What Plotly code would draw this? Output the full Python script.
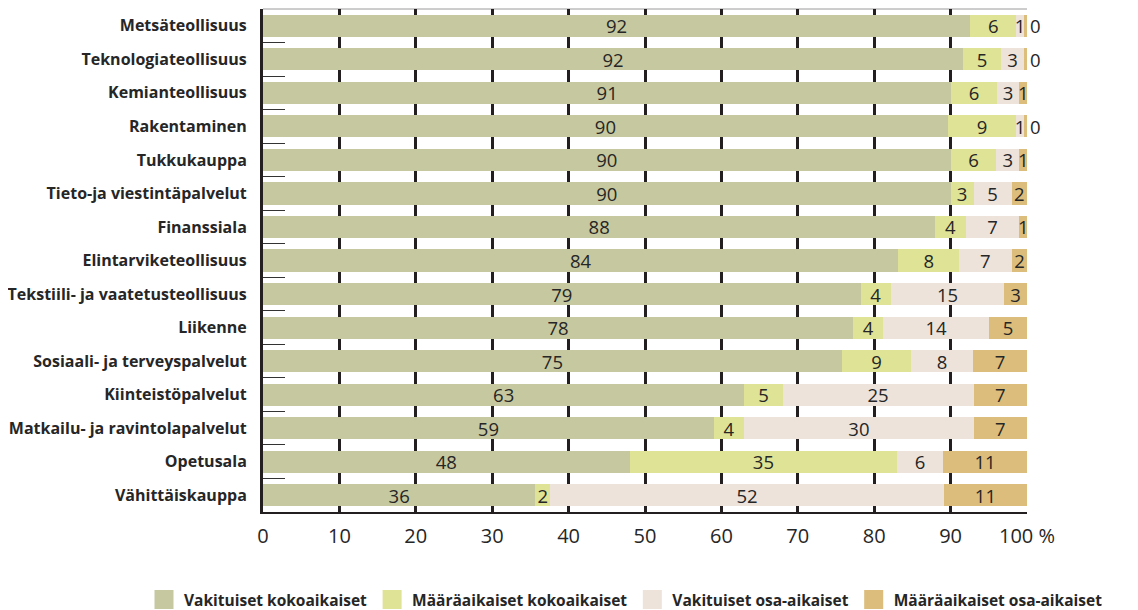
import plotly.graph_objects as go

categories = [
    "Metsäteollisuus", "Teknologiateollisuus", "Kemianteollisuus", "Rakentaminen",
    "Tukkukauppa", "Tieto-ja viestintäpalvelut", "Finanssiala", "Elintarviketeollisuus",
    "Tekstiili- ja vaatetusteollisuus", "Liikenne", "Sosiaali- ja terveyspalvelut",
    "Kiinteistöpalvelut", "Matkailu- ja ravintolapalvelut", "Opetusala", "Vähittäiskauppa",
]
series_names = ["Vakituiset kokoaikaiset", "Määräaikaiset kokoaikaiset",
                "Vakituiset osa-aikaiset", "Määräaikaiset osa-aikaiset"]
vakituiset_kokoaikaiset = [92, 92, 91, 90, 90, 90, 88, 84, 79, 78, 75, 63, 59, 48, 36]
maaraaikaiset_kokoaikaiset = [6, 5, 6, 9, 6, 3, 4, 8, 4, 4, 9, 5, 4, 35, 2]
vakituiset_osaaikaiset = [1, 3, 3, 1, 3, 5, 7, 7, 15, 14, 8, 25, 30, 6, 52]
maaraaikaiset_osaaikaiset = [0.4, 0.4, 1, 0.4, 1, 2, 1, 2, 3, 5, 7, 7, 7, 11, 11]
tick_vals = [0, 10, 20, 30, 40, 50, 60, 70, 80, 90, 100]
tick_text = ["0", "10", "20", "30", "40", "50", "60", "70", "80", "90", "100 %"]

colors = ["#c6c99f", "#dfe395", "#ede3db", "#dcbd7b"]
all_series = [vakituiset_kokoaikaiset, maaraaikaiset_kokoaikaiset,
              vakituiset_osaaikaiset, maaraaikaiset_osaaikaiset]

FONT = "Open Sans"
TXT = "#262626"
W, H = 1130, 602  # page adds an 8px body margin
L, R_EDGE, T, B_EDGE = 255, 1019, 1, 504
PW, PH = R_EDGE - L, B_EDGE - T

fig = go.Figure()
for i, (name, vals) in enumerate(zip(series_names, all_series)):
    labels = [str(round(v)) for v in vals]
    if i == 3:
        pos = ["outside" if v < 0.5 else "inside" for v in vals]
    else:
        pos = "inside"
    fig.add_trace(go.Bar(
        y=categories, x=vals, name=name, orientation="h",
        marker=dict(color=colors[i], line=dict(width=0)),
        text=labels, textposition=pos, textangle=0,
        insidetextanchor="middle",
        textfont=dict(family=FONT, size=18.5, color=TXT),
        cliponaxis=False, hoverinfo="skip", showlegend=False,
    ))
# legend entries with larger square swatches
for name, col in zip(series_names, colors):
    fig.add_trace(go.Scatter(
        x=[None], y=[None], mode="markers", name=name,
        marker=dict(symbol="square", size=16, color=col, line=dict(color=col, width=3)),
        hoverinfo="skip",
    ))

fig.update_layout(
    barmode="stack", barnorm="percent", bargap=0.34,
    width=W, height=H,
    margin=dict(l=L, r=W - R_EDGE, t=T, b=H - B_EDGE, autoexpand=False),
    paper_bgcolor="white", plot_bgcolor="white",
    font=dict(family=FONT, color=TXT),
    uniformtext=dict(minsize=18.5, mode="show"),
    legend=dict(orientation="h", xref="paper", yref="paper",
                x=(136 - L) / PW, xanchor="left",
                y=-(592 - B_EDGE) / PH, yanchor="middle",
                font=dict(family=FONT, size=15.5, color=TXT, weight="bold"),
                traceorder="normal", itemwidth=30),
    shapes=[dict(type="line", xref="paper", yref="paper", x0=0, x1=1, y0=1, y1=1,
                 line=dict(color="#9a9a9a", width=1), layer="below")],
)
fig.update_xaxes(
    range=[0, 100.0001], tickvals=tick_vals, ticktext=tick_text,
    showgrid=True, gridcolor="#231f20", gridwidth=2.5,
    zeroline=False, showline=True, linecolor="#231f20", linewidth=2,
    tickfont=dict(family=FONT, size=20, color=TXT),
    ticks="", ticklabelstandoff=5, automargin=False,
)
fig.update_yaxes(
    categoryorder="array", categoryarray=categories, autorange="reversed",
    showline=True, linecolor="#231f20", linewidth=3,
    ticks="inside", ticklen=22, tickcolor="#333333", tickwidth=1,
    tickson="boundaries", showgrid=False,
    tickfont=dict(family=FONT, size=16, color=TXT, weight="bold"),
    ticklabelstandoff=10, automargin=False,
)
fig.write_html("out.html")
